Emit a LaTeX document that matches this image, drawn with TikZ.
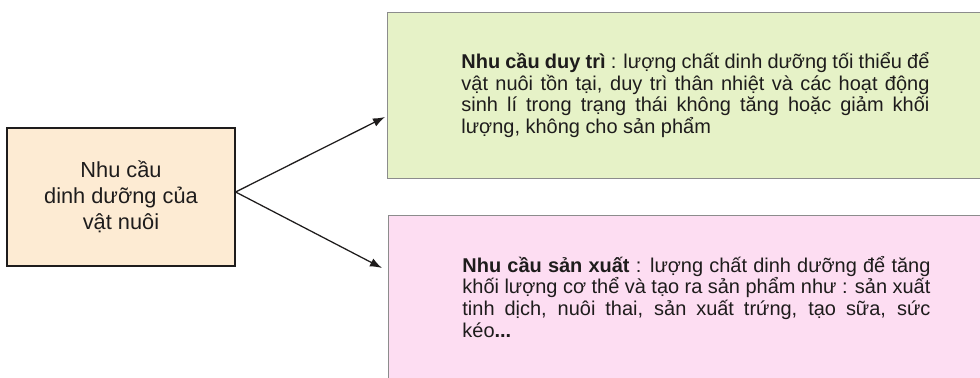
\documentclass[tikz,border=0pt]{standalone}
\usepackage{fontspec}
\setmainfont{Liberation Sans}
\usetikzlibrary{arrows.meta,positioning,calc}
\definecolor{peach}{RGB}{253,235,211}
\definecolor{palegreen}{RGB}{230,242,199}
\definecolor{palepink}{RGB}{253,221,242}
\definecolor{rimgray}{RGB}{140,140,140}
\definecolor{inkdark}{RGB}{30,28,28}

\begin{document}
\begin{tikzpicture}[
          need/.style={draw=inkdark,fill=peach,line width=0.9pt,
                       minimum width=5.7cm,minimum height=3.45cm,
                       align=center,font=\fontsize{15.5}{18.5}\selectfont,
                       text=inkdark},
          kind/.style={draw=rimgray,line width=0.6pt,anchor=west,
                       text width=11.7cm,inner xsep=1.85cm,inner ysep=0pt,
                       align=justify,font=\fontsize{14.2}{15.6}\selectfont,
                       text=inkdark},
          link/.style={-{Latex[length=3mm,width=2.2mm]},line width=0.9pt,inkdark}]
        \useasboundingbox (0,0) rectangle (24.5,9.425);
        \clip (0,0) rectangle (24.5,9.425);
        \node[need] (demand) at (3.025,4.5) {Nhu cầu\\dinh dưỡng của\\vật nuôi};
        \node[kind,fill=palegreen,minimum height=4.15cm] (upkeep) at (9.675,7.05)
          {\textbf{Nhu cầu duy trì} : lượng chất dinh dưỡng tối thiểu để\linebreak
           vật nuôi tồn tại, duy trì thân nhiệt và các hoạt động\linebreak
           sinh lí trong trạng thái không tăng hoặc giảm khối\linebreak
           lượng, không cho sản phẩm};
        \node[kind,fill=palepink,minimum height=4.1cm] (output) at (9.7,2.0)
          {\textbf{Nhu cầu sản xuất} : lượng chất dinh dưỡng để tăng\linebreak
           khối lượng cơ thể và tạo ra sản phẩm như : sản xuất\linebreak
           tinh dịch, nuôi thai, sản xuất trứng, tạo sữa, sức\linebreak
           kéo\textbf{...}};
        \coordinate (fork) at ($(demand.east)+(0,0.125)$);
        \draw[link] (fork) -- ([shift={(-0.05,-0.55)}]upkeep.west);
        \draw[link] (fork) -- ([shift={(-0.15,0.725)}]output.west);
      \end{tikzpicture}
\end{document}
